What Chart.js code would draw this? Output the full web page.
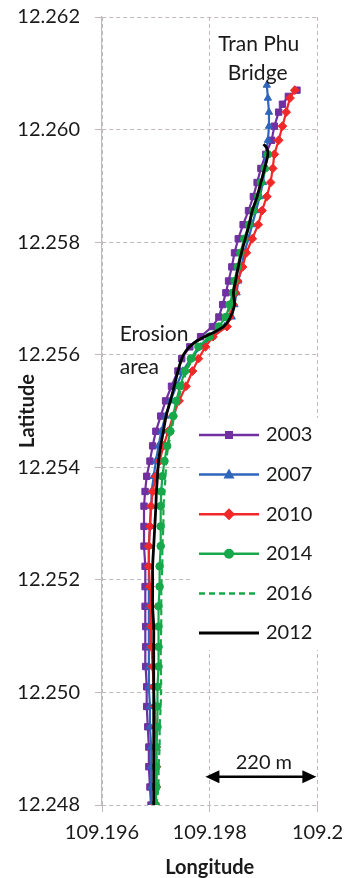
<!DOCTYPE html>
<html>
<head>
<meta charset="utf-8">
<script src="https://cdn.jsdelivr.net/npm/chart.js@4.4.1/dist/chart.umd.min.js"></script>
<style>
  html, body { margin: 0; padding: 0; background: #fff; }
  #wrap { width: 352px; height: 878px; }
</style>
</head>
<body>
<div id="wrap"><canvas id="shoreChart"></canvas></div>
<script>
// shoreline positions, south -> north
const lat2003 = [12.24800, 12.24832, 12.24868, 12.24903, 12.24939, 12.24975, 12.25010, 12.25046, 12.25081, 12.25117,
  12.25153, 12.25188, 12.25224, 12.25260, 12.25295, 12.25331, 12.25357, 12.25384, 12.25411, 12.25438,
  12.25464, 12.25491, 12.25518, 12.25544, 12.25571, 12.25593, 12.25614, 12.25632, 12.25650, 12.25667,
  12.25689, 12.25710, 12.25731, 12.25756, 12.25781, 12.25806, 12.25831, 12.25856, 12.25881, 12.25906,
  12.25931, 12.25956, 12.25981, 12.26006, 12.26031, 12.26045, 12.26059, 12.26070];
const lon2003 = [109.19691, 109.19689, 109.19687, 109.19687, 109.19685, 109.19683, 109.19683, 109.19681, 109.19681, 109.19681,
  109.19680, 109.19680, 109.19680, 109.19678, 109.19678, 109.19678, 109.19680, 109.19683, 109.19689, 109.19694,
  109.19700, 109.19709, 109.19718, 109.19729, 109.19741, 109.19748, 109.19763, 109.19783, 109.19805, 109.19817,
  109.19824, 109.19830, 109.19835, 109.19841, 109.19846, 109.19853, 109.19862, 109.19872, 109.19881, 109.19888,
  109.19895, 109.19904, 109.19915, 109.19920, 109.19928, 109.19935, 109.19946, 109.19962];

const lat2007 = [12.24800, 12.24832, 12.24868, 12.24903, 12.24939, 12.24975, 12.25010, 12.25046, 12.25081, 12.25117,
  12.25153, 12.25188, 12.25224, 12.25260, 12.25295, 12.25331, 12.25357, 12.25384, 12.25411, 12.25438,
  12.25464, 12.25491, 12.25518, 12.25544, 12.25571, 12.25593, 12.25614, 12.25632, 12.25650, 12.25667,
  12.25689, 12.25710, 12.25731, 12.25756, 12.25781, 12.25806, 12.25831, 12.25856, 12.25881, 12.25906,
  12.25931, 12.25956, 12.25981, 12.26006, 12.26031, 12.26056, 12.26079];
const lon2007 = [109.19692, 109.19692, 109.19691, 109.19691, 109.19689, 109.19689, 109.19687, 109.19687, 109.19687, 109.19687,
  109.19687, 109.19687, 109.19687, 109.19687, 109.19689, 109.19691, 109.19692, 109.19696, 109.19700, 109.19705,
  109.19710, 109.19718, 109.19727, 109.19738, 109.19750, 109.19765, 109.19783, 109.19805, 109.19828, 109.19841,
  109.19846, 109.19850, 109.19853, 109.19859, 109.19864, 109.19872, 109.19879, 109.19886, 109.19893, 109.19899,
  109.19902, 109.19904, 109.19908, 109.19910, 109.19910, 109.19908, 109.19906];

const lat2010 = [12.24800, 12.24832, 12.24868, 12.24903, 12.24939, 12.24975, 12.25010, 12.25046, 12.25081, 12.25117,
  12.25153, 12.25188, 12.25224, 12.25260, 12.25295, 12.25331, 12.25357, 12.25384, 12.25411, 12.25438,
  12.25464, 12.25491, 12.25518, 12.25544, 12.25571, 12.25593, 12.25614, 12.25632, 12.25650, 12.25667,
  12.25689, 12.25710, 12.25731, 12.25756, 12.25781, 12.25806, 12.25831, 12.25856, 12.25881, 12.25906,
  12.25931, 12.25956, 12.25981, 12.26006, 12.26031, 12.26056, 12.26070];
const lon2010 = [109.19698, 109.19701, 109.19701, 109.19701, 109.19700, 109.19698, 109.19696, 109.19694, 109.19692, 109.19691,
  109.19691, 109.19689, 109.19687, 109.19687, 109.19689, 109.19691, 109.19694, 109.19700, 109.19707, 109.19714,
  109.19723, 109.19732, 109.19743, 109.19756, 109.19768, 109.19779, 109.19792, 109.19806, 109.19832, 109.19837,
  109.19843, 109.19848, 109.19852, 109.19861, 109.19868, 109.19879, 109.19890, 109.19897, 109.19906, 109.19913,
  109.19917, 109.19920, 109.19928, 109.19935, 109.19942, 109.19949, 109.19958];

const lat2014 = [12.24800, 12.24832, 12.24868, 12.24903, 12.24939, 12.24975, 12.25010, 12.25046, 12.25081, 12.25117,
  12.25153, 12.25188, 12.25224, 12.25260, 12.25295, 12.25331, 12.25357, 12.25384, 12.25411, 12.25438,
  12.25464, 12.25491, 12.25518, 12.25544, 12.25571, 12.25593, 12.25614, 12.25632, 12.25650, 12.25667,
  12.25689, 12.25710, 12.25731, 12.25756, 12.25781, 12.25806, 12.25831, 12.25856, 12.25881, 12.25906,
  12.25931, 12.25956];
const lon2014 = [109.19700, 109.19701, 109.19701, 109.19701, 109.19703, 109.19703, 109.19703, 109.19705, 109.19705, 109.19705,
  109.19705, 109.19707, 109.19707, 109.19709, 109.19709, 109.19709, 109.19710, 109.19712, 109.19716, 109.19721,
  109.19727, 109.19732, 109.19738, 109.19745, 109.19754, 109.19765, 109.19779, 109.19799, 109.19817, 109.19830,
  109.19837, 109.19843, 109.19846, 109.19852, 109.19857, 109.19864, 109.19873, 109.19881, 109.19890, 109.19895,
  109.19902, 109.19908];

const lat2016 = [12.24800, 12.24832, 12.24868, 12.24903, 12.24939, 12.24975, 12.25010, 12.25046, 12.25081, 12.25117,
  12.25153, 12.25188, 12.25224, 12.25260, 12.25295, 12.25331, 12.25357, 12.25384, 12.25411, 12.25438,
  12.25464, 12.25491, 12.25518, 12.25544, 12.25571, 12.25593, 12.25614, 12.25632, 12.25650, 12.25667,
  12.25689, 12.25710, 12.25731, 12.25756, 12.25781, 12.25806, 12.25831, 12.25856, 12.25881, 12.25906,
  12.25931];
const lon2016 = [109.19701, 109.19705, 109.19705, 109.19707, 109.19707, 109.19709, 109.19710, 109.19709, 109.19709, 109.19710,
  109.19710, 109.19710, 109.19712, 109.19712, 109.19714, 109.19714, 109.19716, 109.19718, 109.19719, 109.19723,
  109.19729, 109.19734, 109.19741, 109.19748, 109.19757, 109.19768, 109.19783, 109.19801, 109.19819, 109.19832,
  109.19839, 109.19844, 109.19848, 109.19853, 109.19859, 109.19866, 109.19875, 109.19882, 109.19891, 109.19897,
  109.19904];

const lat2012 = [12.24800, 12.24832, 12.24868, 12.24903, 12.24939, 12.24975, 12.25010, 12.25046, 12.25081, 12.25117,
  12.25153, 12.25188, 12.25224, 12.25260, 12.25295, 12.25331, 12.25357, 12.25384, 12.25411, 12.25438,
  12.25464, 12.25491, 12.25518, 12.25544, 12.25571, 12.25593, 12.25607, 12.25619, 12.25632, 12.25641,
  12.25650, 12.25664, 12.25689, 12.25710, 12.25731, 12.25756, 12.25781, 12.25806, 12.25831, 12.25856,
  12.25881, 12.25906, 12.25931, 12.25956, 12.25967, 12.25974];
const lon2012 = [109.19696, 109.19696, 109.19696, 109.19696, 109.19696, 109.19696, 109.19696, 109.19696, 109.19696, 109.19696,
  109.19694, 109.19694, 109.19694, 109.19696, 109.19698, 109.19700, 109.19701, 109.19703, 109.19705, 109.19709,
  109.19714, 109.19719, 109.19727, 109.19734, 109.19741, 109.19748, 109.19756, 109.19768, 109.19790, 109.19810,
  109.19826, 109.19837, 109.19846, 109.19844, 109.19848, 109.19853, 109.19859, 109.19866, 109.19873, 109.19879,
  109.19888, 109.19895, 109.19902, 109.19908, 109.19906, 109.19900];

const seriesNames = ['2003', '2007', '2010', '2014', '2016', '2012'];

const xTickValues = [109.196, 109.198, 109.2];
const xTickLabels = ['109.196', '109.198', '109.2'];
const yTickValues = [12.248, 12.25, 12.252, 12.254, 12.256, 12.258, 12.26, 12.262];
const yTickLabels = ['12.248', '12.250', '12.252', '12.254', '12.256', '12.258', '12.260', '12.262'];

function toPoints(lons, lats) {
  return lons.map(function (lon, i) { return { x: lon, y: lats[i] }; });
}

const PURPLE = '#7030A0';
const BLUE = '#2F65BA';
const RED = '#F02828';
const GREEN = '#16A84A';
const GRID = '#C2BABA';
const FONT = 'Lato, "Open Sans", sans-serif';

const styles = [
  { color: PURPLE, marker: 'rect', radius: 4.5, dash: [], order: 5 },
  { color: BLUE, marker: 'triangle', radius: 4.2, dash: [], order: 4 },
  { color: RED, marker: 'rectRot', radius: 4.4, dash: [], order: 3 },
  { color: GREEN, marker: 'circle', radius: 3.8, dash: [], order: 2 },
  { color: GREEN, marker: false, radius: 0, dash: [6, 4], order: 1 },
  { color: '#000000', marker: false, radius: 0, dash: [], order: 0 }
];
const seriesData = [
  toPoints(lon2003, lat2003),
  toPoints(lon2007, lat2007),
  toPoints(lon2010, lat2010),
  toPoints(lon2014, lat2014),
  toPoints(lon2016, lat2016),
  toPoints(lon2012, lat2012)
];

const datasets = seriesNames.map(function (name, i) {
  const s = styles[i];
  return {
    label: name,
    data: seriesData[i],
    showLine: true,
    borderColor: s.color,
    backgroundColor: s.color,
    borderWidth: i === 5 ? 2.8 : 2.2,
    borderDash: s.dash,
    pointStyle: s.marker || 'circle',
    pointRadius: s.radius,
    pointBorderWidth: 1,
    pointHoverRadius: s.radius,
    tension: i === 5 ? 0.25 : 0,
    order: s.order
  };
});

// legend, labels and the 220 m scale bar
const overlay = {
  id: 'overlay',
  afterDraw(chart) {
    const ctx = chart.ctx;
    const xs = chart.scales.x;
    const ys = chart.scales.y;
    const area = chart.chartArea;
    ctx.save();

    ctx.fillStyle = '#1a1a1a';
    ctx.font = '21px ' + FONT;
    ctx.textBaseline = 'middle';
    ctx.textAlign = 'center';
    ctx.fillText('Tran Phu', xs.getPixelForValue(109.19891), ys.getPixelForValue(12.26152));
    ctx.fillText('Bridge', xs.getPixelForValue(109.19889), ys.getPixelForValue(12.26100));
    ctx.textAlign = 'left';
    ctx.fillText('Erosion', xs.getPixelForValue(109.19633), ys.getPixelForValue(12.25637));
    ctx.fillText('area', xs.getPixelForValue(109.19633), ys.getPixelForValue(12.25578));

    // scale bar
    const bx1 = xs.getPixelForValue(109.19792);
    const bx2 = xs.getPixelForValue(109.19998);
    const by = ys.getPixelForValue(12.2485);
    ctx.strokeStyle = '#000';
    ctx.fillStyle = '#000';
    ctx.lineWidth = 2.5;
    ctx.beginPath();
    ctx.moveTo(bx1 + 8, by);
    ctx.lineTo(bx2 - 8, by);
    ctx.stroke();
    ctx.beginPath();
    ctx.moveTo(bx1, by); ctx.lineTo(bx1 + 14, by - 6.5); ctx.lineTo(bx1 + 14, by + 6.5); ctx.closePath();
    ctx.moveTo(bx2, by); ctx.lineTo(bx2 - 14, by - 6.5); ctx.lineTo(bx2 - 14, by + 6.5); ctx.closePath();
    ctx.fill();
    ctx.fillStyle = '#1a1a1a';
    ctx.textAlign = 'center';
    ctx.font = '20px ' + FONT;
    ctx.fillText('220 m', (bx1 + bx2) / 2 + 3, by - 14);

    // legend box
    const lx = area.left + 88;
    const ly = area.top + 401;
    ctx.fillStyle = '#ffffff';
    ctx.fillRect(lx, ly, 128, 232);
    const rowGap = 39.6;
    chart.data.datasets.forEach(function (ds, i) {
      const s = styles[i];
      const y = ly + 17 + i * rowGap;
      ctx.strokeStyle = s.color;
      ctx.fillStyle = s.color;
      ctx.lineWidth = i === 5 ? 2.8 : 2.5;
      ctx.setLineDash(s.dash);
      ctx.beginPath();
      ctx.moveTo(lx + 9, y);
      ctx.lineTo(lx + 69, y);
      ctx.stroke();
      ctx.setLineDash([]);
      const cx = lx + 39;
      ctx.beginPath();
      if (s.marker === 'rect') {
        ctx.rect(cx - 4, y - 4, 8, 8);
      } else if (s.marker === 'triangle') {
        ctx.moveTo(cx, y - 6); ctx.lineTo(cx + 5.5, y + 4); ctx.lineTo(cx - 5.5, y + 4); ctx.closePath();
      } else if (s.marker === 'rectRot') {
        ctx.moveTo(cx, y - 6); ctx.lineTo(cx + 6, y); ctx.lineTo(cx, y + 6); ctx.lineTo(cx - 6, y); ctx.closePath();
      } else if (s.marker === 'circle') {
        ctx.arc(cx, y, 5, 0, Math.PI * 2);
      }
      ctx.fill();
      ctx.fillStyle = '#1a1a1a';
      ctx.textAlign = 'left';
      ctx.fillText(ds.label, lx + 76, y);
    });

    ctx.restore();
  }
};

const ctx = document.getElementById('shoreChart').getContext('2d');
const shoreChart = new Chart(ctx, {
  type: 'scatter',
  data: { datasets: datasets },
  plugins: [overlay],
  options: {
    responsive: true,
    maintainAspectRatio: false,
    animation: false,
    events: [],
    layout: { padding: { top: 17, right: 29, bottom: 0, left: 0 } },
    plugins: {
      legend: { display: false },
      tooltip: { enabled: false }
    },
    scales: {
      x: {
        type: 'linear',
        min: 109.196,
        max: 109.2,
        afterBuildTicks: function (scale) {
          scale.ticks = xTickValues.map(function (v) { return { value: v }; });
        },
        afterFit: function (scale) { scale.height = 73; },
        ticks: {
          color: '#1a1a1a',
          font: { family: FONT, size: 20 },
          padding: 9,
          maxRotation: 0,
          callback: function (v) {
            const k = xTickValues.findIndex(function (t) { return Math.abs(t - v) < 1e-7; });
            return k >= 0 ? xTickLabels[k] : '';
          }
        },
        grid: { color: GRID, lineWidth: 1, tickLength: 7, tickColor: GRID },
        border: { display: false, dash: [4, 3] },
        title: {
          display: true,
          text: 'Longitude',
          color: '#1a1a1a',
          font: { family: FONT, size: 20, weight: 'bold' },
          padding: { top: 0, bottom: -2 }
        }
      },
      y: {
        type: 'linear',
        min: 12.248,
        max: 12.262,
        afterBuildTicks: function (scale) {
          scale.ticks = yTickValues.map(function (v) { return { value: v }; });
        },
        afterFit: function (scale) {
          scale.width = 102;
          scale.paddingTop = 0;
          scale.paddingBottom = 0;
        },
        ticks: {
          color: '#1a1a1a',
          font: { family: FONT, size: 20 },
          padding: 15,
          callback: function (v) {
            const k = yTickValues.findIndex(function (t) { return Math.abs(t - v) < 1e-7; });
            return k >= 0 ? yTickLabels[k] : '';
          }
        },
        grid: { color: GRID, lineWidth: 1, tickLength: 7, tickColor: GRID },
        border: { display: true, color: '#BDBDBD', width: 1.2, dash: [4, 3] },
        title: {
          display: true,
          text: 'Latitude',
          color: '#1a1a1a',
          font: { family: FONT, size: 20, weight: 'bold' },
          padding: { top: 16, bottom: 0 }
        }
      }
    }
  }
});
</script>
</body>
</html>
